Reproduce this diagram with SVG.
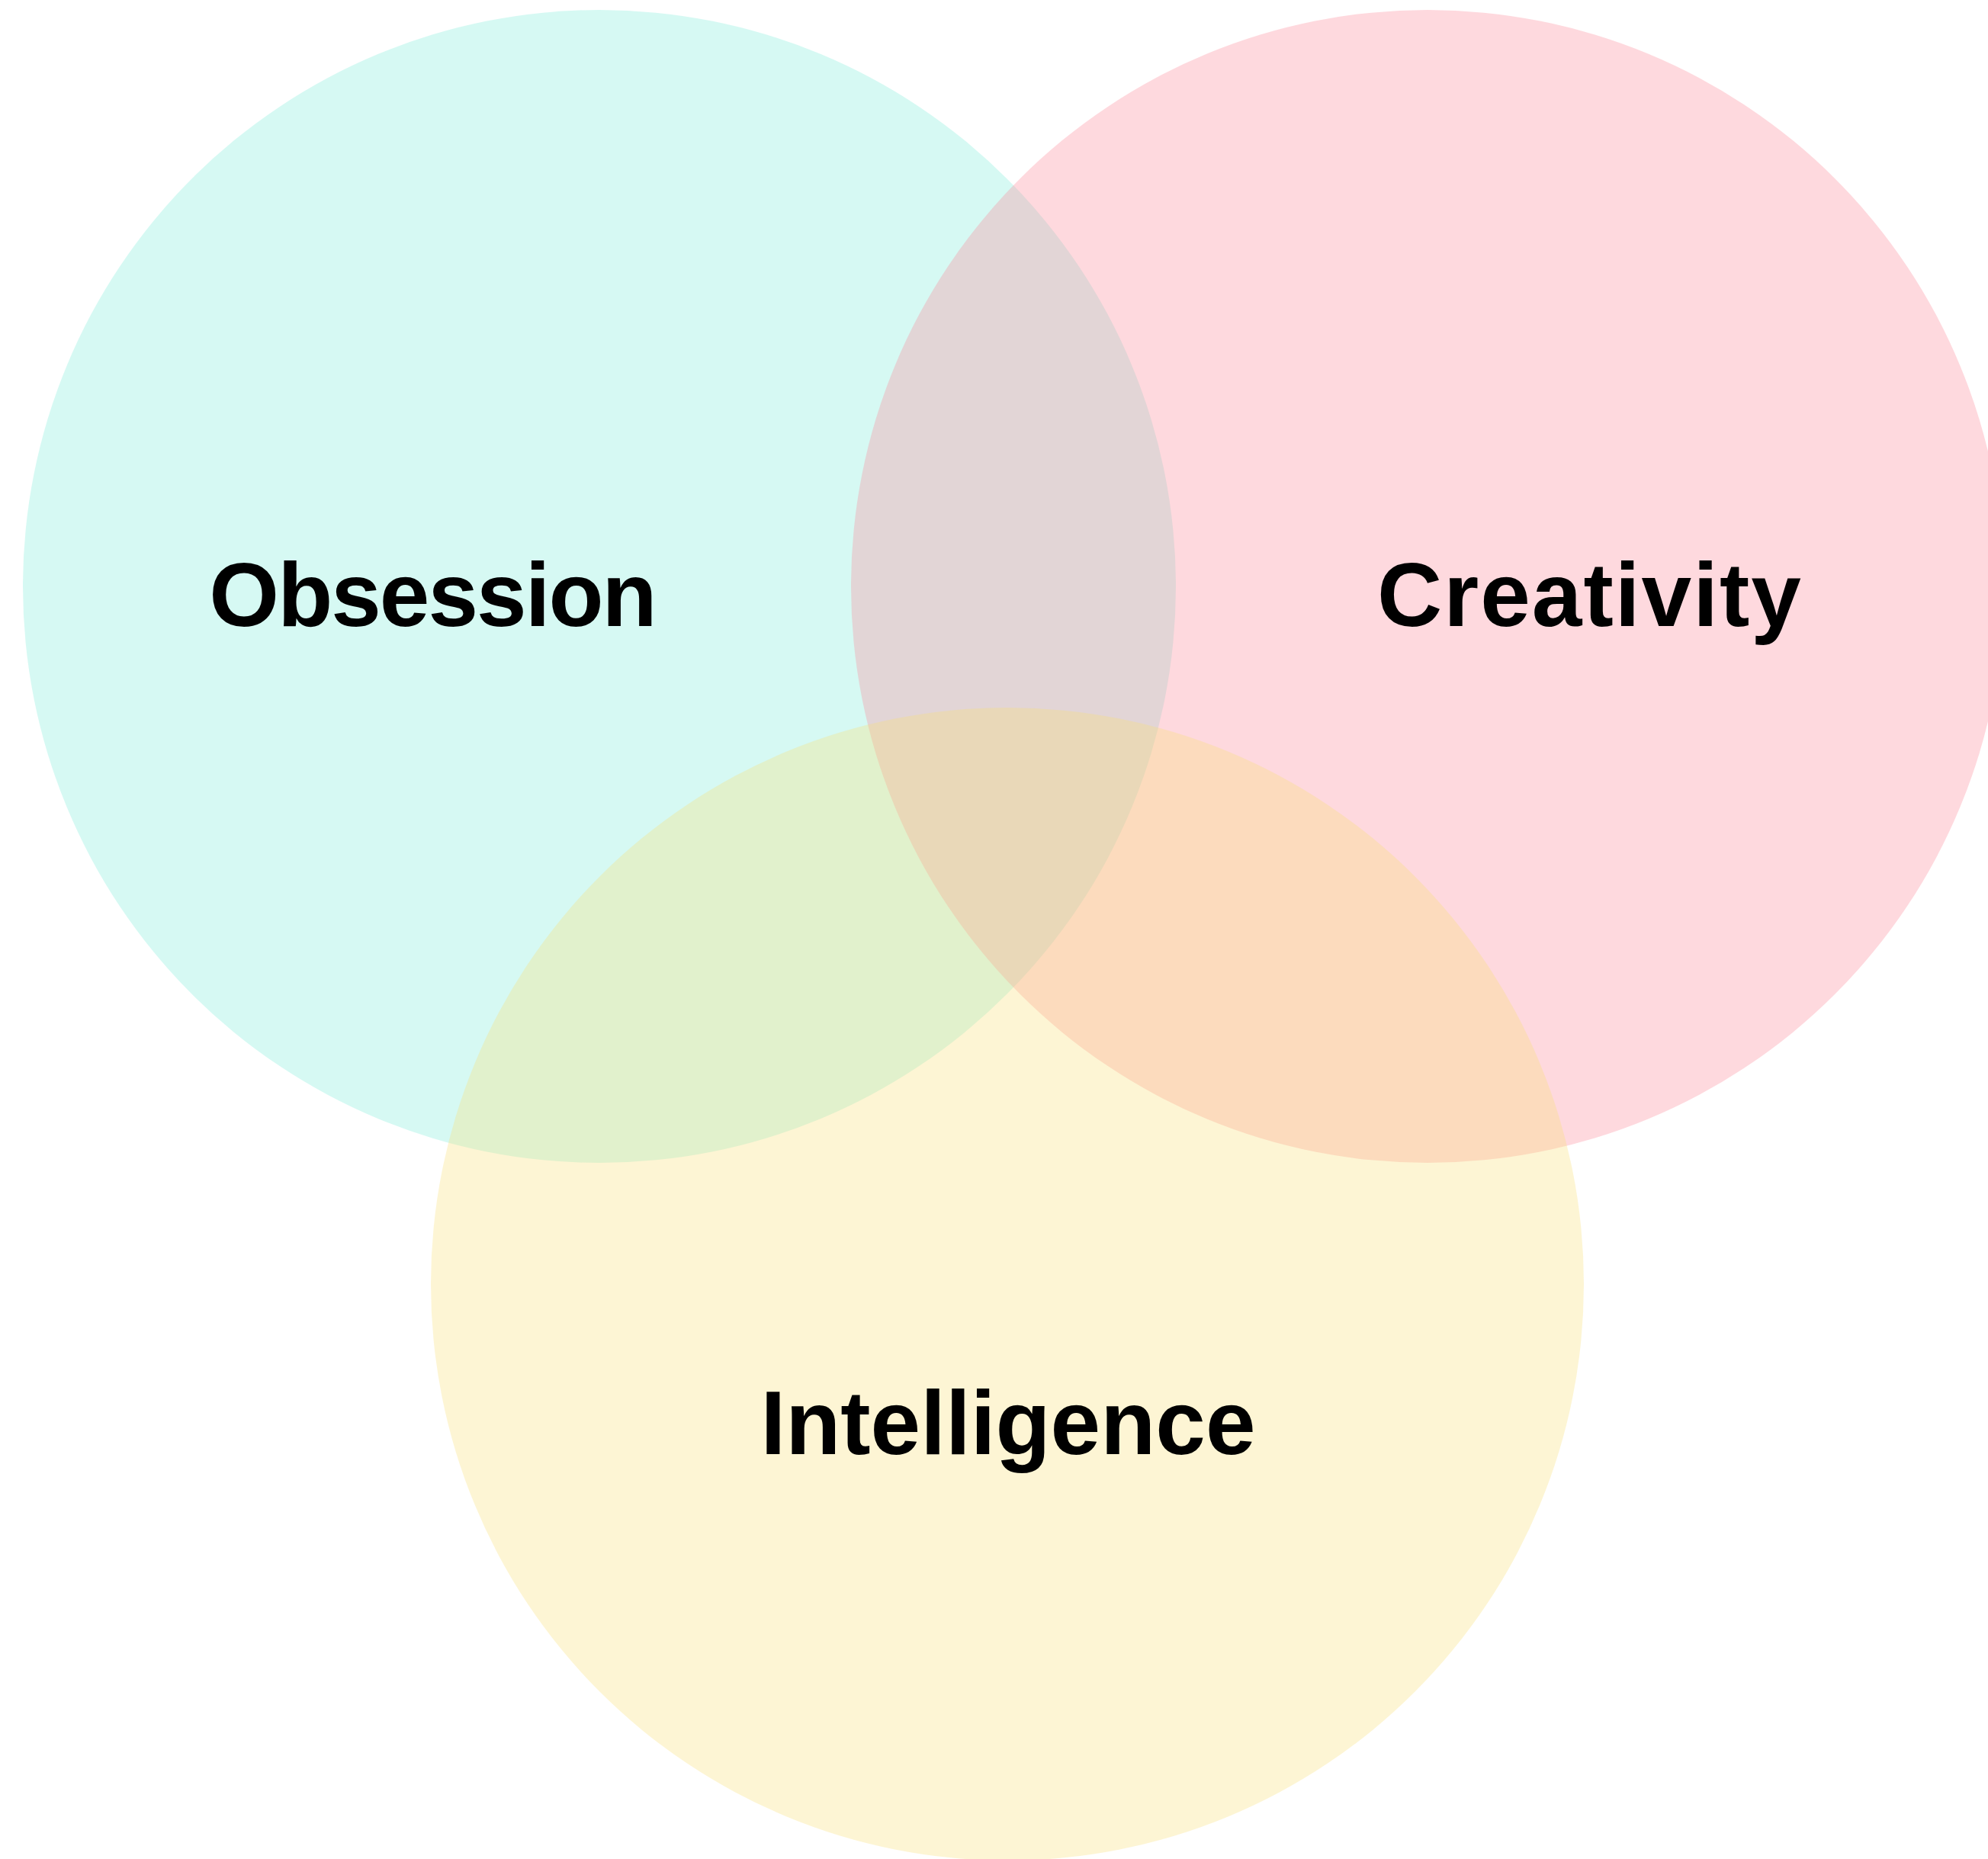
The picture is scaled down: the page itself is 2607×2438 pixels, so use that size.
<svg xmlns="http://www.w3.org/2000/svg" width="2607" height="2438" viewBox="0 0 2607 2438">
<style>
.c{fill-opacity:0.32;stroke:none}
.t{font-family:"Liberation Sans",Arial,Helvetica,sans-serif;font-weight:bold;font-size:118px;fill:#000;text-anchor:middle}
</style>
<rect width="2607" height="2438" fill="#ffffff"/>
<g id="obsession">
<circle class="c" cx="786" cy="769" r="756" fill="#7fecd9"/>
</g>
<g id="creativity">
<circle class="c" cx="1872" cy="769" r="756" fill="#fc8898"/>
</g>
<g id="intelligence">
<circle class="c" cx="1321" cy="1684" r="756" fill="#f9e079"/>
</g>
<g id="labels">
<text class="t" x="567" y="821" letter-spacing="-2">Obsession</text>
<text class="t" x="2085" y="821" letter-spacing="2">Creativity</text>
<text class="t" x="1322" y="1907">Intelligence</text>
</g>
</svg>
